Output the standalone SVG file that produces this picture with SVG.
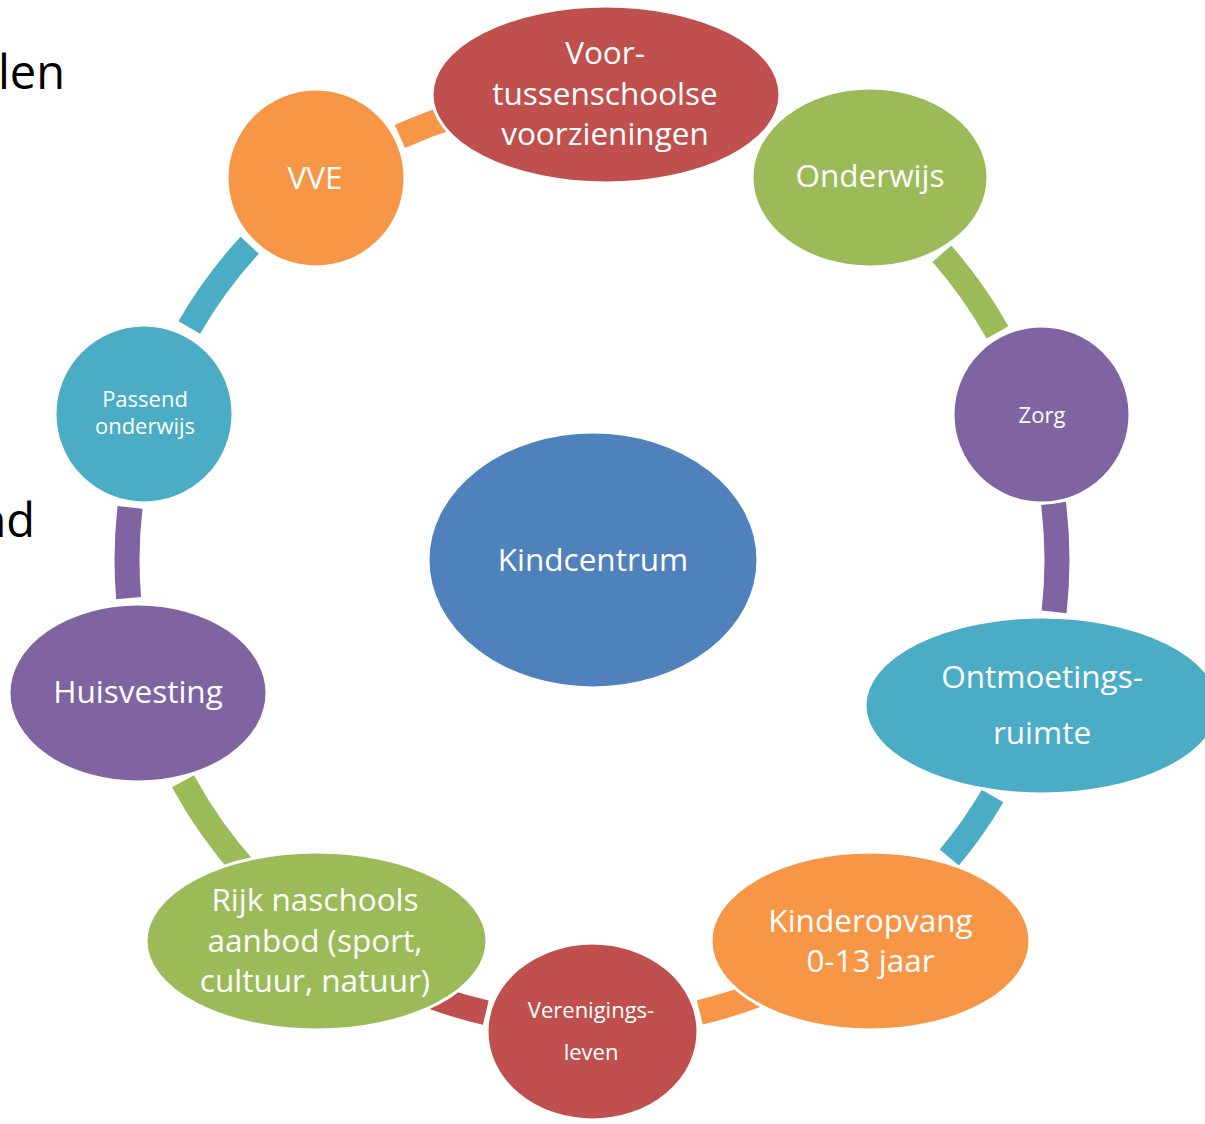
<svg xmlns="http://www.w3.org/2000/svg" width="1205" height="1124" viewBox="0 0 1205 1124">
<style>
.seg{fill:none;stroke-width:25;stroke-linecap:butt}
.node{stroke:#FFFFFF;stroke-width:3}
.t{font-family:"Open Sans","Liberation Sans",sans-serif;fill:#FFFFFF;text-anchor:middle;font-size:31.5px}
.s{font-size:22px}
.bg{font-family:"Open Sans","Liberation Sans",sans-serif;fill:#000000;font-size:47px}
.red{fill:#C0504D}.green{fill:#9BBB59}.purple{fill:#8064A2}.teal{fill:#4BACC6}.orange{fill:#F79646}.blue{fill:#4F81BD}
</style>
<rect width="1205" height="1124" fill="#FFFFFF"/>
<text class="bg" x="-2" y="89">len</text>
<text class="bg" x="35" y="537" text-anchor="end">nd</text>
<g id="connectors">
<path class="seg" stroke="#4BACC6" d="M189.3,327.5 A465,465 0 0 1 249.7,245.2"/>
<path class="seg" stroke="#F79646" d="M399.9,136.5 A465,465 0 0 1 527.3,99.5"/>
<path class="seg" stroke="#9BBB59" d="M941.9,253.7 A465,465 0 0 1 997.5,332.4"/>
<path class="seg" stroke="#8064A2" d="M1053.5,503.3 A465,465 0 0 1 1054.1,611.8"/>
<path class="seg" stroke="#4BACC6" d="M992.6,796 A465,465 0 0 1 949.3,857.6"/>
<path class="seg" stroke="#F79646" d="M781.1,984.8 A465,465 0 0 1 699.8,1012.4"/>
<path class="seg" stroke="#C0504D" d="M485.8,1012.7 A465,465 0 0 1 402.9,984.8"/>
<path class="seg" stroke="#9BBB59" d="M246.5,871.1 A465,465 0 0 1 183,781.2"/>
<path class="seg" stroke="#8064A2" d="M128.6,598.1 A465,465 0 0 1 130,507.4"/>
</g>
<g id="node-kindcentrum">
<ellipse class="node blue" cx="593" cy="560" rx="165" ry="128"/>
<text class="t" x="593" y="571">Kindcentrum</text>
</g>
<g id="node-voor">
<ellipse class="node red" cx="606" cy="94.5" rx="174" ry="88.5"/>
<text class="t" x="605" y="64">Voor-</text>
<text class="t" x="605" y="105">tussenschoolse</text>
<text class="t" x="605" y="145">voorzieningen</text>
</g>
<g id="node-onderwijs">
<ellipse class="node green" cx="870" cy="177.5" rx="118" ry="89.5"/>
<text class="t" x="870" y="187">Onderwijs</text>
</g>
<g id="node-zorg">
<circle class="node purple" cx="1041.5" cy="414.5" r="88.5"/>
<text class="t s" x="1042" y="423">Zorg</text>
</g>
<g id="node-ontmoetingsruimte">
<ellipse class="node teal" cx="1042" cy="705.5" rx="177" ry="88.5"/>
<text class="t" x="1042" y="688">Ontmoetings-</text>
<text class="t" x="1042" y="744">ruimte</text>
</g>
<g id="node-kinderopvang">
<ellipse class="node orange" cx="870.5" cy="941" rx="159.5" ry="89"/>
<text class="t" x="870.5" y="932">Kinderopvang</text>
<text class="t" x="870.5" y="972">0-13 jaar</text>
</g>
<g id="node-verenigingsleven">
<ellipse class="node red" cx="592.5" cy="1031.5" rx="105.5" ry="88.5"/>
<text class="t s" x="591" y="1018">Verenigings-</text>
<text class="t s" x="591" y="1060">leven</text>
</g>
<g id="node-rijk">
<ellipse class="node green" cx="316.5" cy="941" rx="170.5" ry="89"/>
<text class="t" x="315" y="911">Rijk naschools</text>
<text class="t" x="315" y="952">aanbod (sport,</text>
<text class="t" x="315" y="992">cultuur, natuur)</text>
</g>
<g id="node-huisvesting">
<ellipse class="node purple" cx="138" cy="693" rx="129" ry="89"/>
<text class="t" x="138" y="703">Huisvesting</text>
</g>
<g id="node-passend">
<circle class="node teal" cx="144" cy="414" r="89"/>
<text class="t s" x="145" y="407">Passend</text>
<text class="t s" x="145" y="434">onderwijs</text>
</g>
<g id="node-vve">
<circle class="node orange" cx="316" cy="178" r="89"/>
<text class="t" x="315" y="189">VVE</text>
</g>
</svg>
